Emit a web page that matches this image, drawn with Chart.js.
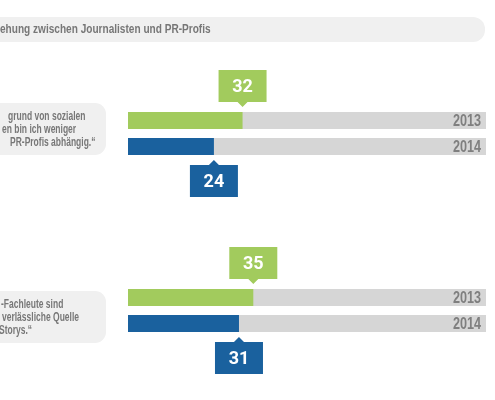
<!DOCTYPE html>
<html>
<head>
<meta charset="utf-8">
<script src="https://cdn.jsdelivr.net/npm/chart.js@4"></script>
<style>
  html, body { margin: 0; padding: 0; background: #fff; }
  #wrap { width: 495px; height: 400px; }
</style>
</head>
<body>
<div id="wrap"><canvas id="chart" width="495" height="400"></canvas></div>
<script>
const title = "ehung zwischen Journalisten und PR-Profis";
const categories = ["stmt1", "stmt2"];
const statementLines = [
  ["grund von sozialen", "en bin ich weniger", "PR-Profis abhängig.\u201C"],
  ["-Fachleute sind", "verlässliche Quelle", "Storys.\u201C"]
];
const years = ["2013", "2014"];
const values2013 = [32, 35];
const values2014 = [24, 31];

const GREEN = "#a2cb5d";
const BLUE = "#1a619e";
const TRACK = "#d6d6d6";
const GREYTEXT = "#777777";
const BUBBLE = "#f0f0f0";
const FONT = "'Liberation Sans', Arial, sans-serif";

// where the cut-off left boxes sit
const bubbleTops = [103, 291];
const lineIndents = [[8, 2, 10], [1, 2, -1]];

// the original uses a condensed face, so squeeze the text sideways
function narrowText(ctx, text, x, y, sx) {
  ctx.save();
  ctx.translate(x, y);
  ctx.scale(sx, 1);
  ctx.fillText(text, 0, 0);
  ctx.restore();
}

const decorations = {
  id: "decorations",
  beforeDatasetsDraw(chart) {
    const ctx = chart.ctx;
    const area = chart.chartArea;
    ctx.save();
    // title strip
    ctx.fillStyle = BUBBLE;
    ctx.beginPath();
    ctx.roundRect(-20, 17, 505, 25, 12);
    ctx.fill();
    ctx.fillStyle = GREYTEXT;
    ctx.font = "bold 12px " + FONT;
    ctx.textBaseline = "middle";
    ctx.textAlign = "left";
    narrowText(ctx, title, 0, 30, 0.84);

    // statement bubbles
    ctx.font = "bold 12.5px " + FONT;
    statementLines.forEach((lines, i) => {
      const top = bubbleTops[i];
      ctx.fillStyle = BUBBLE;
      ctx.beginPath();
      ctx.roundRect(-20, top, 126, 52, 11);
      ctx.fill();
      ctx.fillStyle = GREYTEXT;
      lines.forEach((t, j) => {
        narrowText(ctx, t, lineIndents[i][j], top + 13.5 + j * 12.8, 0.68);
      });
    });

    // grey tracks behind every bar
    chart.data.datasets.forEach((ds, di) => {
      chart.getDatasetMeta(di).data.forEach(bar => {
        ctx.fillStyle = TRACK;
        ctx.fillRect(area.left, bar.y - bar.height / 2, area.right - area.left, bar.height);
      });
    });
    ctx.restore();
  },
  afterDatasetsDraw(chart) {
    const ctx = chart.ctx;
    const area = chart.chartArea;
    ctx.save();
    chart.data.datasets.forEach((ds, di) => {
      chart.getDatasetMeta(di).data.forEach((bar, i) => {
        const top = bar.y - bar.height / 2;
        const bottom = bar.y + bar.height / 2;
        // year label on the right of the track
        ctx.fillStyle = "#7f7f7f";
        ctx.font = "bold 16px " + FONT;
        ctx.textAlign = "right";
        ctx.textBaseline = "middle";
        narrowText(ctx, ds.label, area.right - 5, bar.y + 1, 0.79);

        // value callout
        const w = 48, h = 32, gap = 5, tip = 5;
        const cx = bar.x;
        const by = di === 0 ? top - gap - tip - h : bottom + gap + tip;
        ctx.fillStyle = ds.backgroundColor;
        ctx.beginPath();
        ctx.rect(cx - w / 2, by, w, h);
        if (di === 0) {
          ctx.moveTo(cx - 5, by + h);
          ctx.lineTo(cx + 5, by + h);
          ctx.lineTo(cx, top - gap);
        } else {
          ctx.moveTo(cx - 5, by);
          ctx.lineTo(cx + 5, by);
          ctx.lineTo(cx, bottom + gap);
        }
        ctx.fill();
        ctx.fillStyle = "#fff";
        ctx.font = "bold 18px Roboto, sans-serif";
        ctx.textAlign = "center";
        ctx.fillText(String(ds.data[i]), cx, by + h / 2 + 1);
      });
    });
    ctx.restore();
  }
};

new Chart(document.getElementById("chart"), {
  type: "bar",
  data: {
    labels: categories,
    datasets: [
      { label: years[0], data: values2013, backgroundColor: GREEN },
      { label: years[1], data: values2014, backgroundColor: BLUE }
    ]
  },
  options: {
    indexAxis: "y",
    responsive: false,
    animation: false,
    devicePixelRatio: 1,
    datasets: { bar: { categoryPercentage: 52 / 177, barPercentage: 17 / 26, borderWidth: 0 } },
    layout: { padding: { left: 128, right: 9, top: 45, bottom: 1 } },
    scales: {
      x: { display: false, min: 0, max: 100 },
      y: { display: false }
    },
    plugins: {
      legend: { display: false },
      tooltip: { enabled: false }
    }
  },
  plugins: [decorations]
});
</script>
</body>
</html>
